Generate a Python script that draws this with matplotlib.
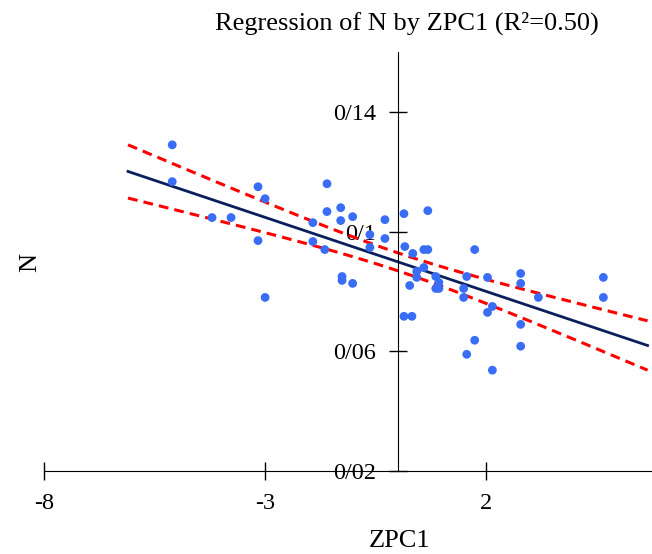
import numpy as np
import matplotlib
matplotlib.use("Agg")
import matplotlib.pyplot as plt

plt.rcParams['font.family'] = ['Liberation Serif', 'DejaVu Serif']
plt.rcParams['axes.unicode_minus'] = False

# dati
zpc1 = [-5.10, -5.10, -4.20, -3.77, -3.16, -3.00, -3.16, -3.00,
        -1.92, -1.92, -1.65, -1.60, -1.60, -1.29, -1.29, -1.02,
        -1.26, -1.26, -1.02, -0.63, -0.63, -0.29, -0.29,
        0.14, 0.68, 0.16, 0.34, 0.59, 0.68, 1.74, 0.59, 0.43,
        0.43, 0.27, 0.86, 0.93, 0.86, 0.93, 1.56, 1.49, 1.49,
        2.03, 2.14, 2.03, 0.14, 0.32, 1.74, 1.56, 2.14,
        2.78, 2.78, 3.18, 4.65, 4.65, 2.78, 2.78]
n_val = [0.1290, 0.1167, 0.1047, 0.1047, 0.1150, 0.1110, 0.0970, 0.0780,
         0.1030, 0.0967, 0.0940, 0.1160, 0.1067, 0.1080, 0.1037, 0.1050,
         0.0850, 0.0837, 0.0827, 0.0990, 0.0947, 0.1040, 0.0977,
         0.1060, 0.1070, 0.0950, 0.0927, 0.0940, 0.0940, 0.0940, 0.0880, 0.0867,
         0.0847, 0.0820, 0.0850, 0.0830, 0.0810, 0.0810, 0.0850, 0.0810, 0.0780,
         0.0847, 0.0750, 0.0730, 0.0717, 0.0717, 0.0637, 0.0590, 0.0537,
         0.0860, 0.0827, 0.0780, 0.0847, 0.0780, 0.0690, 0.0617]

xticks = [-8, -3, 2]
xtick_labels = ['-8', '-3', '2']
yticks = [0.02, 0.06, 0.1, 0.14]
ytick_labels = ['0/02', '0/06', '0/1', '0/14']

x = np.array(zpc1)
y = np.array(n_val)

# retta di regressione e intervallo di confidenza
b, a = np.polyfit(x, y, 1)
n = len(x)
res = y - (a + b * x)
s = np.sqrt(np.sum(res ** 2) / (n - 2))
sxx = np.sum((x - x.mean()) ** 2)
xx = np.linspace(x.min() - 1, x.max() + 1, 100)
yy = a + b * xx
se = s * np.sqrt(1.0 / n + (xx - x.mean()) ** 2 / sxx)
t = 2.005

fig = plt.figure(figsize=(6.52, 5.54), dpi=100)
ax = fig.add_axes([0.0675, 0.1498, 0.9325, 0.7562])

ax.plot(xx, yy, color='#0b1f5c', lw=2, zorder=2)
ax.plot(xx, yy + t * se, color='red', lw=2.2, ls=(0, (3.2, 2)), zorder=2)
ax.plot(xx, yy - t * se, color='red', lw=2.2, ls=(0, (3.2, 2)), zorder=2)
ax.scatter(x, y, s=40, color='#3a6df5', edgecolors='none', zorder=3)

ax.set_xlim(-8, 5.75)
ax.set_ylim(0.02, 0.16)

ax.spines['left'].set_position(('data', 0))
ax.spines['bottom'].set_position(('data', 0.02))
ax.spines['top'].set_visible(False)
ax.spines['right'].set_visible(False)

ax.set_xticks(xticks)
ax.set_xticklabels(xtick_labels)
ax.set_yticks(yticks)
ax.set_yticklabels(ytick_labels)
ax.tick_params(direction='inout', length=13, width=1, labelsize=17.5, pad=9)

fig.text(0.624, 0.958, 'Regression of N by ZPC1 (R²=0.50)', ha='center', va='center', fontsize=19)
fig.text(0.613, 0.024, 'ZPC1', ha='center', va='center', fontsize=19)
fig.text(0.046, 0.527, 'N', ha='center', va='center', fontsize=19, rotation=90)

fig.savefig('out.png', dpi=100)
